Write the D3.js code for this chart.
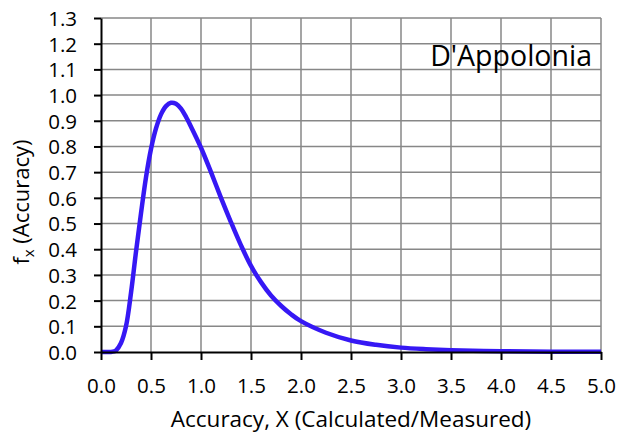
<!DOCTYPE html>
<html>
<head>
<meta charset="utf-8">
<script src="https://cdn.jsdelivr.net/npm/d3@7"></script>
<style>
  html, body { margin: 0; padding: 0; background: #fff; }
  #chart svg { display: block; }
</style>
</head>
<body>
<div id="chart"></div>
<script>
(function () {
  const WIDTH  = 621;
  const HEIGHT = 440;
  const MARGIN = { top: 18, right: 20, bottom: 88, left: 101 };
  const FONT   = "'Open Sans', 'Noto Sans', sans-serif";

  // accuracy values (x) and density (f_x)
  const accuracy = [0, 0.05, 0.1, 0.13, 0.15, 0.2, 0.25, 0.3, 0.35, 0.4, 0.45, 0.5,
    0.55, 0.6, 0.65, 0.7, 0.75, 0.8, 0.85, 0.9, 1.0, 1.1, 1.2, 1.3, 1.4, 1.5,
    1.6, 1.7, 1.8, 1.9, 2.0, 2.25, 2.5, 2.75, 3.0, 3.25, 3.5, 4.0, 4.5, 5.0];
  const density = [0, 0, 0, 0.002, 0.006, 0.035, 0.10, 0.23, 0.39, 0.54, 0.68, 0.79,
    0.87, 0.925, 0.957, 0.97, 0.966, 0.947, 0.915, 0.877, 0.795, 0.70, 0.60, 0.505, 0.415, 0.335,
    0.272, 0.22, 0.18, 0.147, 0.12, 0.075, 0.045, 0.028, 0.017, 0.011, 0.007, 0.003, 0.001, 0.0005];

  const xTicks = d3.range(0, 11).map(i => i * 0.5);
  const yTicks = d3.range(0, 14).map(i => i / 10);

  const seriesLabel = "D'Appolonia";
  const xTitle = "Accuracy, X (Calculated/Measured)";

  const data = accuracy.map((a, i) => ({ x: a, y: density[i] }));

  const svg = d3.select("#chart").append("svg")
    .attr("width", WIDTH)
    .attr("height", HEIGHT)
    .style("font-family", FONT);

  const x = d3.scaleLinear()
    .domain([0, 5])
    .range([MARGIN.left, WIDTH - MARGIN.right]);

  const y = d3.scaleLinear()
    .domain([0, 1.3])
    .range([HEIGHT - MARGIN.bottom, MARGIN.top]);

  // grid
  const grid = svg.append("g")
    .attr("stroke", "#878787")
    .attr("stroke-width", 1.5);

  grid.selectAll("line.v")
    .data(xTicks.filter(d => d > 0))
    .join("line")
    .attr("class", "v")
    .attr("x1", d => x(d)).attr("x2", d => x(d))
    .attr("y1", y(0)).attr("y2", y(1.3));

  grid.selectAll("line.h")
    .data(yTicks.filter(d => d > 0))
    .join("line")
    .attr("class", "h")
    .attr("x1", x(0)).attr("x2", x(5))
    .attr("y1", d => y(d)).attr("y2", d => y(d));

  // curve
  const line = d3.line()
    .x(d => x(d.x))
    .y(d => y(d.y))
    .curve(d3.curveCatmullRom.alpha(0.5));

  svg.append("path")
    .datum(data)
    .attr("fill", "none")
    .attr("stroke", "#3618f4")
    .attr("stroke-width", 4.5)
    .attr("stroke-linejoin", "round")
    .attr("d", line);

  // axes
  const xAxis = svg.append("g")
    .attr("transform", `translate(0,${y(0)})`)
    .call(d3.axisBottom(x).tickValues(xTicks).tickSize(8).tickSizeOuter(0)
      .tickFormat(d3.format(".1f")));

  const yAxis = svg.append("g")
    .attr("transform", `translate(${x(0)},0)`)
    .call(d3.axisLeft(y).tickValues(yTicks).tickSize(7).tickSizeOuter(0)
      .tickFormat(d3.format(".1f")));

  [xAxis, yAxis].forEach(g => {
    g.select(".domain").attr("stroke", "#000").attr("stroke-width", 2);
    g.selectAll(".tick line").attr("stroke", "#000").attr("stroke-width", 2);
    g.selectAll(".tick text")
      .attr("fill", "#000")
      .style("font-family", FONT)
      .style("font-size", "20.5px");
  });
  xAxis.selectAll(".tick text").attr("y", 41).attr("dy", null);
  yAxis.selectAll(".tick text").attr("x", -24).attr("dy", "0.36em");

  // titles
  svg.append("text")
    .attr("x", (x(0) + x(5)) / 2)
    .attr("y", 427)
    .attr("text-anchor", "middle")
    .attr("font-size", "22.5px")
    .attr("fill", "#000")
    .text(xTitle);

  const yt = svg.append("text")
    .attr("transform", "translate(29,202) rotate(-90)")
    .attr("text-anchor", "middle")
    .attr("font-size", "22px")
    .attr("fill", "#000");
  yt.append("tspan").text("f");
  yt.append("tspan").attr("font-size", "15px").attr("dy", 5).text("x");
  yt.append("tspan").attr("dy", -5).text(" (Accuracy)");

  svg.append("text")
    .attr("x", 592)
    .attr("y", 66)
    .attr("text-anchor", "end")
    .attr("font-size", "28.5px")
    .attr("fill", "#000")
    .text(seriesLabel);
})();
</script>
</body>
</html>
